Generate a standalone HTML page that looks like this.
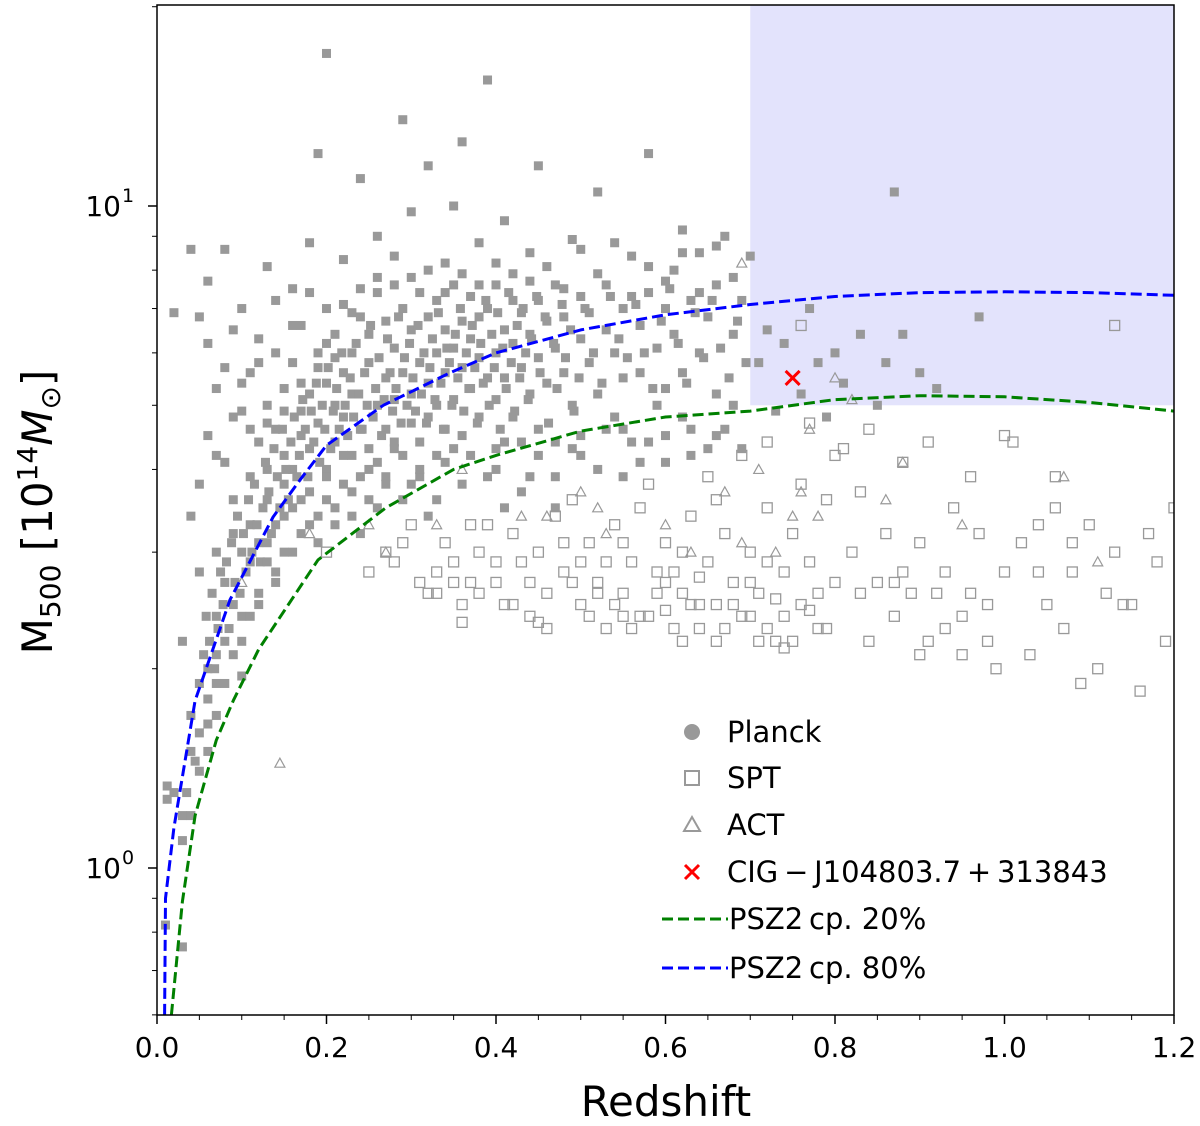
<!DOCTYPE html>
<html><head><meta charset="utf-8">
<style>
html,body{margin:0;padding:0;background:#fff;}
svg{display:block;font-family:"DejaVu Sans","Liberation Sans",sans-serif;}
</style></head>
<body>
<svg id="chart" width="1200" height="1126" viewBox="0 0 1200 1126">
<rect x="0" y="0" width="1200" height="1126" fill="#fff"/>
<g id="plot"></g>
<g id="axes"></g>
<g id="legend"></g>
</svg>
<script>
// ---- data ----
const xTicks = [0.0, 0.2, 0.4, 0.6, 0.8, 1.0, 1.2];
const xTickLabels = ["0.0","0.2","0.4","0.6","0.8","1.0","1.2"];
const yMajor = [1, 10];
const yMinor = [0.6,0.7,0.8,0.9,2,3,4,5,6,7,8,9,20];
const shadeZ = [0.7, 1.2];
const shadeM = [5.0, 20.2];
const curve80Z = [0.009,0.01,0.02,0.045,0.086,0.137,0.169,0.2,0.267,0.346,0.4,0.5,0.6,0.7,0.8,0.9,1.0,1.1,1.2];
const curve80M = [0.6,0.9,1.15,1.79,2.54,3.39,3.86,4.35,5.0,5.6,6.0,6.5,6.85,7.1,7.3,7.4,7.42,7.4,7.33];
const curve20Z = [0.017,0.03,0.045,0.07,0.09,0.12,0.19,0.27,0.35,0.4,0.5,0.6,0.7,0.8,0.9,1.0,1.1,1.2];
const curve20M = [0.6,0.89,1.2,1.56,1.79,2.14,2.92,3.5,4.0,4.2,4.57,4.8,4.9,5.1,5.17,5.15,5.05,4.9];
const cigZ = [0.75];
const cigM = [5.5];
const planck = [
[0.02,6.9],[0.012,1.33],[0.012,1.27],[0.03,0.76],[0.01,0.82],[0.02,1.3],[0.03,1.1],[0.03,2.2],[0.04,8.6],[0.04,1.5],[0.04,3.4],[0.05,6.8],[0.05,1.6],[0.05,2.8],[0.06,7.7],[0.06,2.0],[0.06,4.5],[0.06,1.8],[0.07,5.3],[0.07,2.4],[0.07,3.0],[0.07,1.9],[0.08,8.6],[0.08,4.1],[0.08,2.7],[0.08,2.2],[0.09,3.6],[0.09,6.5],[0.09,2.5],[0.09,3.2],[0.1,4.9],[0.1,3.0],[0.1,2.4],[0.1,7.0],[0.11,3.9],[0.11,2.9],[0.11,5.6],[0.11,3.3],[0.12,4.4],[0.12,3.1],[0.12,6.3],[0.12,2.6],[0.13,3.6],[0.13,5.0],[0.13,8.1],[0.13,4.0],[0.14,3.3],[0.14,4.6],[0.14,6.0],[0.14,2.8],[0.15,3.8],[0.15,5.3],[0.15,4.2],[0.15,3.0],[0.16,7.5],[0.16,4.0],[0.16,3.5],[0.16,5.8],[0.17,4.5],[0.17,3.2],[0.17,6.6],[0.17,4.9],[0.18,3.7],[0.18,5.2],[0.18,8.8],[0.18,4.3],[0.19,3.4],[0.19,6.0],[0.19,4.7],[0.19,12.0],[0.2,5.4],[0.2,4.0],[0.2,3.6],[0.2,17.0],[0.2,7.0],[0.21,4.4],[0.21,6.4],[0.21,3.5],[0.21,5.0],[0.22,3.8],[0.22,8.3],[0.22,4.8],[0.22,5.6],[0.23,4.2],[0.23,6.9],[0.23,3.4],[0.23,5.2],[0.24,4.6],[0.24,7.5],[0.24,3.9],[0.24,11.0],[0.25,5.8],[0.25,4.3],[0.25,6.4],[0.25,3.6],[0.26,5.0],[0.26,7.8],[0.26,4.1],[0.26,9.0],[0.27,5.5],[0.27,4.6],[0.27,6.7],[0.27,3.8],[0.28,5.1],[0.28,6.1],[0.28,4.4],[0.28,8.4],[0.29,5.6],[0.29,13.5],[0.29,4.2],[0.29,7.0],[0.3,5.2],[0.3,6.5],[0.3,4.7],[0.3,9.8],[0.31,5.8],[0.31,4.4],[0.31,7.4],[0.31,3.9],[0.32,5.4],[0.32,6.8],[0.32,4.8],[0.32,11.5],[0.33,6.0],[0.33,5.0],[0.33,7.2],[0.33,4.2],[0.34,5.6],[0.34,6.5],[0.34,8.2],[0.34,4.6],[0.35,6.1],[0.35,5.1],[0.35,7.6],[0.35,10.0],[0.36,5.7],[0.36,6.7],[0.36,4.5],[0.36,12.5],[0.37,6.3],[0.37,5.3],[0.37,7.3],[0.38,5.9],[0.38,4.8],[0.38,8.8],[0.38,6.8],[0.39,5.5],[0.39,7.0],[0.39,15.5],[0.4,6.0],[0.4,5.1],[0.4,7.6],[0.4,4.3],[0.41,6.5],[0.41,5.5],[0.41,9.5],[0.42,6.2],[0.42,4.8],[0.42,7.9],[0.43,5.7],[0.43,6.9],[0.43,4.4],[0.44,6.4],[0.44,8.5],[0.44,5.2],[0.45,5.9],[0.45,7.2],[0.45,4.6],[0.45,11.5],[0.46,6.7],[0.46,5.4],[0.47,6.1],[0.47,7.6],[0.47,4.4],[0.48,5.6],[0.48,6.8],[0.49,8.9],[0.49,5.0],[0.5,6.3],[0.5,7.3],[0.5,4.5],[0.51,5.8],[0.51,6.9],[0.52,10.5],[0.52,5.2],[0.53,6.5],[0.53,7.6],[0.54,4.8],[0.54,6.0],[0.55,7.0],[0.55,5.5],[0.56,8.4],[0.56,4.4],[0.57,6.6],[0.57,5.6],[0.58,7.4],[0.58,12.0],[0.59,6.1],[0.59,5.0],[0.6,7.0],[0.6,5.3],[0.61,8.0],[0.61,6.4],[0.62,5.6],[0.62,9.2],[0.63,7.2],[0.63,4.6],[0.64,6.0],[0.64,8.5],[0.65,6.8],[0.66,5.2],[0.66,7.6],[0.67,9.0],[0.68,6.4],[0.68,5.0],[0.69,7.2],[0.7,8.4],[0.71,5.8],[0.72,6.5],[0.73,4.9],[0.74,6.2],[0.76,5.2],[0.77,7.0],[0.78,5.8],[0.79,4.8],[0.8,6.0],[0.81,5.4],[0.83,6.4],[0.85,5.0],[0.86,5.8],[0.87,10.5],[0.88,6.4],[0.9,5.6],[0.92,5.3],[0.97,6.8],[0.05,1.4],[0.06,1.5],[0.07,1.7],[0.04,1.2],[0.03,1.2],[0.13,3.1],[0.15,3.4],[0.18,3.3],[0.23,3.7],[0.27,3.9],[0.31,4.0],[0.35,4.3],[0.4,4.0],[0.45,4.2],[0.5,4.2],[0.55,4.6],[0.6,4.5],[0.63,4.2],[0.67,4.6],[0.33,3.6],[0.41,3.5],[0.47,3.5],[0.57,4.1]
];
const planckCore = [
[0.055,2.1],[0.058,2.4],[0.062,2.2],[0.065,2.6],[0.068,2.0],[0.072,2.3],[0.075,2.8],[0.078,2.5],[0.082,2.9],[0.085,2.3],[0.088,3.1],[0.092,2.7],[0.095,3.4],[0.098,2.6],[0.102,3.2],[0.105,2.8],[0.108,3.6],[0.112,3.0],[0.115,3.8],[0.118,3.3],[0.122,2.9],[0.125,3.5],[0.128,4.1],[0.132,3.7],[0.135,3.2],[0.138,4.3],[0.142,3.9],[0.145,3.5],[0.148,4.6],[0.152,4.0],[0.155,3.6],[0.158,4.4],[0.162,4.8],[0.165,3.9],[0.168,4.2],[0.172,5.1],[0.175,4.6],[0.178,3.9],[0.182,4.9],[0.185,4.4],[0.188,5.4],[0.192,4.1],[0.195,5.0],[0.198,4.6],[0.202,5.7],[0.205,4.3],[0.208,4.9],[0.212,5.3],[0.215,4.6],[0.218,6.0],[0.222,5.0],[0.225,4.5],[0.228,5.5],[0.232,4.8],[0.235,6.2],[0.238,5.2],[0.242,4.6],[0.245,5.6],[0.248,5.0],[0.252,6.6],[0.255,4.8],[0.258,5.3],[0.262,5.9],[0.265,4.5],[0.268,5.1],[0.272,6.3],[0.275,5.6],[0.278,4.9],[0.282,5.3],[0.285,6.8],[0.288,4.7],[0.292,5.9],[0.295,5.0],[0.298,6.2],[0.302,5.5],[0.305,4.9],[0.308,6.6],[0.312,5.2],[0.315,6.0],[0.318,4.7],[0.322,5.7],[0.325,6.3],[0.328,5.1],[0.332,6.9],[0.335,5.4],[0.338,4.6],[0.342,6.1],[0.345,5.8],[0.348,5.0],[0.352,6.4],[0.355,5.5],[0.358,7.0],[0.362,4.9],[0.365,6.0],[0.368,5.3],[0.372,6.6],[0.375,5.7],[0.378,4.7],[0.382,6.2],[0.385,5.4],[0.388,7.2],[0.392,5.0],[0.395,6.4],[0.398,5.7],[0.402,6.9],[0.405,4.6],[0.408,6.1],[0.412,5.3],[0.415,7.4],[0.418,5.8],[0.422,4.9],[0.425,6.6],[0.428,5.5],[0.432,7.0],[0.435,6.0],[0.438,5.1],[0.442,6.3],[0.448,7.3],[0.452,5.6],[0.458,6.8],[0.462,4.7],[0.468,6.2],[0.472,5.3],[0.478,7.1],[0.482,5.9],[0.488,6.5],[0.492,4.9],[0.498,5.5],[0.505,7.0],[0.515,6.0],[0.525,5.4],[0.535,7.3],[0.545,6.3],[0.555,5.9],[0.565,7.1],[0.575,6.0],[0.585,5.3],[0.595,6.7],[0.605,7.5],[0.615,6.2],[0.625,5.4],[0.635,6.9],[0.645,5.9],[0.655,7.2],[0.665,6.1],[0.675,5.5],[0.685,6.7],[0.695,5.8],
[0.16,3.0],[0.19,3.1],[0.21,3.3],[0.24,3.2],[0.26,3.5],[0.29,3.6],[0.32,3.4],[0.36,3.8],[0.39,3.9],[0.43,3.7],[0.47,3.9],[0.52,4.0],[0.55,3.9],[0.6,4.1],[0.65,4.3],[0.12,2.5],[0.14,2.7],[0.1,2.2],[0.08,1.9],[0.06,1.65],[0.045,1.45],[0.035,1.3],[0.04,1.7],[0.05,1.9],[0.07,2.1],[0.09,2.1],[0.1,1.95],[0.11,2.4],[0.13,2.9],[0.17,3.6],[0.2,3.9],[0.22,4.2],[0.25,4.0],[0.28,4.3],[0.3,3.8],[0.34,4.1],[0.37,4.2],[0.41,4.4],[0.44,3.9],[0.49,4.3],[0.53,4.6],[0.58,4.4],[0.62,4.8],[0.66,4.5],[0.69,4.3],
[0.1,5.4],[0.12,5.8],[0.14,7.2],[0.16,6.6],[0.18,7.4],[0.2,6.2],[0.22,7.1],[0.24,6.8],[0.26,7.4],[0.28,7.6],[0.3,7.8],[0.32,8.0],[0.34,7.4],[0.36,7.9],[0.38,7.6],[0.4,8.2],[0.42,7.2],[0.44,7.7],[0.46,8.1],[0.48,7.5],[0.5,8.6],[0.52,7.9],[0.54,8.8],[0.56,7.3],[0.58,8.1],[0.6,7.7],[0.62,8.5],[0.64,7.4],[0.66,8.7],[0.68,7.8],[0.07,4.2],[0.09,4.8],[0.08,5.7],[0.06,6.2],[0.05,3.8],[0.11,4.6],[0.13,4.7],[0.15,4.9],[0.17,5.4],[0.19,5.7],[0.21,5.9],[0.23,6.0]
];
const spt = [
[0.2,3.0],[0.25,2.8],[0.28,2.9],[0.3,3.3],[0.32,2.6],[0.33,2.8],[0.35,2.9],[0.36,2.5],[0.38,3.0],[0.4,2.7],[0.41,2.5],[0.42,3.2],[0.44,2.4],[0.45,3.0],[0.46,2.6],[0.48,2.8],[0.49,3.6],[0.5,2.5],[0.51,3.1],[0.52,2.7],[0.53,2.3],[0.54,3.3],[0.55,2.6],[0.56,2.9],[0.57,3.5],[0.58,2.4],[0.59,2.8],[0.6,3.1],[0.61,2.3],[0.62,2.6],[0.63,3.4],[0.64,2.5],[0.65,2.9],[0.66,2.2],[0.67,3.2],[0.68,2.7],[0.69,2.4],[0.7,3.0],[0.71,2.6],[0.72,3.5],[0.73,2.2],[0.74,2.8],[0.75,3.2],[0.76,2.5],[0.77,2.9],[0.78,2.3],[0.79,3.6],[0.8,2.7],[0.46,2.3],[0.43,2.9],[0.39,3.3],[0.37,2.7],[0.34,3.1],[0.31,2.7],[0.29,3.1],[0.47,3.4],[0.53,2.9],[0.55,2.4],[0.58,3.8],[0.6,2.7],[0.62,3.0],[0.64,2.3],[0.66,3.6],[0.68,2.5],[0.7,2.4],[0.72,2.9],[0.74,2.4],[0.76,3.8],[0.78,2.6],[0.8,4.2],[0.82,3.0],[0.84,2.2],[0.85,2.7],[0.86,3.2],[0.87,2.4],[0.88,2.8],[0.89,2.6],[0.9,3.1],[0.91,2.2],[0.92,2.6],[0.93,2.8],[0.94,3.5],[0.95,2.1],[0.96,2.6],[0.97,3.2],[0.98,2.2],[0.99,2.0],[1.0,2.8],[1.01,4.4],[1.02,3.1],[1.03,2.1],[1.04,3.3],[1.05,2.5],[1.06,3.9],[1.07,2.3],[1.08,2.8],[1.09,1.9],[1.1,3.3],[1.11,2.0],[1.12,2.6],[1.13,3.0],[1.14,2.5],[1.15,2.5],[1.16,1.85],[1.17,3.2],[1.18,2.9],[1.19,2.2],[1.2,3.5],[1.13,6.6],[0.76,6.6],[0.81,4.3],[0.84,4.6],[0.77,4.7],[0.72,4.4],[0.69,4.2],[0.65,3.9],[0.83,3.7],[0.88,4.1],[0.91,4.4],[0.96,3.9],[1.0,4.5],[1.06,3.5],[0.87,2.7],[0.93,2.3],[0.98,2.5],[1.04,2.8],[1.08,3.1],[0.57,2.4],[0.59,2.6],[0.61,2.8],[0.63,2.5],[0.67,2.3],[0.71,2.2],[0.75,2.2],[0.79,2.3],[0.83,2.6],[0.9,2.1],[0.95,2.4],[0.52,2.6],[0.49,2.7],[0.44,2.7],[0.42,2.5],[0.4,2.9],[0.37,3.3],[0.33,2.6],[0.27,3.0],[0.35,2.7],
[0.36,2.35],[0.38,2.6],[0.45,2.35],[0.5,2.9],[0.54,2.5],[0.56,2.3],[0.6,2.45],[0.62,2.2],[0.64,2.75],[0.66,2.5],[0.7,2.7],[0.72,2.3],[0.73,2.55],[0.74,2.15],[0.77,2.45],[0.55,3.1],[0.51,2.4],[0.48,3.1]
];
const act = [
[0.145,1.44],[0.1,2.7],[0.18,3.2],[0.25,3.3],[0.27,3.0],[0.33,3.3],[0.36,4.0],[0.43,3.4],[0.46,3.4],[0.5,3.7],[0.52,3.5],[0.53,3.2],[0.6,3.3],[0.63,3.0],[0.67,3.7],[0.69,3.1],[0.71,4.0],[0.73,3.0],[0.75,3.4],[0.76,3.7],[0.78,3.4],[0.8,5.5],[0.82,5.1],[0.86,3.6],[0.88,4.1],[0.95,3.3],[1.07,3.9],[1.11,2.9],[0.69,8.2],[0.77,4.6]
];

// ---- scales ----
const X0 = 157, X1 = 1174, Y0 = 5, Y1 = 1015;
const xs = z => X0 + (z - 0) / 1.2 * (X1 - X0);
const ys = m => 868 - 662 * Math.log10(m);
const NS = "http://www.w3.org/2000/svg";
function mk(tag, attrs, parent) {
  const e = document.createElementNS(NS, tag);
  for (const k in attrs) e.setAttribute(k, attrs[k]);
  parent.appendChild(e);
  return e;
}
const plot = document.getElementById('plot');
const axes = document.getElementById('axes');
const legend = document.getElementById('legend');

const defs = mk('defs', {}, plot);
const cp = mk('clipPath', {id: 'clip'}, defs);
mk('rect', {x: X0, y: Y0, width: X1 - X0, height: Y1 - Y0}, cp);
const inner = mk('g', {'clip-path': 'url(#clip)'}, plot);

const shade = mk('rect', {x: xs(shadeZ[0]), y: ys(shadeM[1]), width: xs(shadeZ[1]) - xs(shadeZ[0]), height: ys(shadeM[0]) - ys(shadeM[1]), fill: '#e3e3fc'}, inner);



spt.forEach(p => {
  const r = mk('rect', {x: xs(p[0]) - 5, y: ys(p[1]) - 5, width: 10, height: 10, fill: 'none', stroke: '#999', 'stroke-width': 1.3}, inner);
  
  
});
planck.concat(planckCore).forEach(p => {
  const r = mk('rect', {x: xs(p[0]) - 4.5, y: ys(p[1]) - 4.5, width: 9, height: 9, fill: '#999'}, inner);
  
  
});
act.forEach(p => {
  const cx = xs(p[0]), cy = ys(p[1]);
  const t = mk('polygon', {points: `${cx},${cy - 5} ${cx - 5},${cy + 4} ${cx + 5},${cy + 4}`, fill: 'none', stroke: '#999', 'stroke-width': 1.2}, inner);
  
  
});
function curve(zs, ms, color, name) {
  const d = zs.map((z, i) => (i ? 'L' : 'M') + xs(z).toFixed(1) + ',' + ys(ms[i]).toFixed(1)).join(' ');
  const p = mk('path', {d: d, fill: 'none', stroke: color, 'stroke-width': 3, 'stroke-dasharray': '11,5', 'stroke-linejoin': 'round'}, inner);
  
  
}
curve(curve20Z, curve20M, '#008000', 'psz2-20-curve');
curve(curve80Z, curve80M, '#0000ff', 'psz2-80-curve');
cigZ.forEach((z, i) => {
  const cx = xs(z), cy = ys(cigM[i]);
  const g = mk('path', {d: `M${cx - 7},${cy - 7} L${cx + 7},${cy + 7} M${cx + 7},${cy - 7} L${cx - 7},${cy + 7}`, stroke: '#ff0000', 'stroke-width': 3}, inner);
  
  
});

const frame = mk('rect', {x: X0, y: Y0, width: X1 - X0, height: Y1 - Y0, fill: 'none', stroke: '#000', 'stroke-width': 1.5}, axes);



xTicks.forEach((v, i) => {
  mk('line', {x1: xs(v), x2: xs(v), y1: Y1, y2: Y1 + 9, stroke: '#000', 'stroke-width': 1.5}, axes);
  const t = mk('text', {x: xs(v), y: Y1 + 42, 'text-anchor': 'middle', 'font-size': 28, fill: '#000'}, axes);
  t.textContent = xTickLabels[i];
  
  
});
for (let v = 0.05; v < 1.2; v += 0.05) {
  if (Math.abs(v / 0.2 - Math.round(v / 0.2)) < 1e-6) continue;
  mk('line', {x1: xs(v), x2: xs(v), y1: Y1, y2: Y1 + 5, stroke: '#000', 'stroke-width': 1}, axes);
}
yMajor.forEach(v => {
  mk('line', {x1: X0 - 9, x2: X0, y1: ys(v), y2: ys(v), stroke: '#000', 'stroke-width': 1.5}, axes);
  const t = mk('text', {x: X0 - 36, y: ys(v) + 10, 'text-anchor': 'end', 'font-size': 28, fill: '#000'}, axes);
  t.textContent = '10';
  
  
  const s = mk('text', {x: X0 - 35, y: ys(v) - 4, 'font-size': 19, fill: '#000'}, axes);
  s.textContent = v === 1 ? '0' : '1';
});
yMinor.forEach(v => {
  mk('line', {x1: X0 - 5, x2: X0, y1: ys(v), y2: ys(v), stroke: '#000', 'stroke-width': 1}, axes);
});
const xt = mk('text', {x: 666, y: 1116, 'text-anchor': 'middle', 'font-size': 42, fill: '#000'}, axes);
xt.textContent = 'Redshift';


const yt = mk('text', {transform: 'translate(52,512) rotate(-90)', 'text-anchor': 'middle', 'font-size': 42, fill: '#000'}, axes);
yt.innerHTML = 'M<tspan font-size="28" dy="8">500</tspan><tspan dy="-8"> [10</tspan><tspan font-size="28" dy="-15">14</tspan><tspan dy="15" font-style="italic">M</tspan><tspan font-size="28" dy="8">⊙</tspan><tspan dy="-8">]</tspan>';



const LX = 692, TX = 727;
const legItems = [
  {y: 732, label: 'Planck', name: 'legend-planck'},
  {y: 778, label: 'SPT', name: 'legend-spt'},
  {y: 825, label: 'ACT', name: 'legend-act'},
  {y: 872, label: 'CIG\u2009\u2212\u2009J104803.7\u2009+\u2009313843', name: 'legend-cig'},
  {y: 919, label: 'PSZ2\u2009cp. 20%', name: 'legend-psz2-20'},
  {y: 968, label: 'PSZ2\u2009cp. 80%', name: 'legend-psz2-80'}
];
legItems.forEach((it, i) => {
  const g = mk('g', {}, legend);
  
  
  const y = it.y;
  if (i === 0) mk('circle', {cx: LX, cy: y, r: 8, fill: '#999'}, g);
  if (i === 1) mk('rect', {x: LX - 7, y: y - 7, width: 14, height: 14, fill: 'none', stroke: '#999', 'stroke-width': 2}, g);
  if (i === 2) mk('polygon', {points: `${LX},${y - 8} ${LX - 8},${y + 6} ${LX + 8},${y + 6}`, fill: 'none', stroke: '#999', 'stroke-width': 2}, g);
  if (i === 3) mk('path', {d: `M${LX - 7},${y - 7} L${LX + 7},${y + 7} M${LX + 7},${y - 7} L${LX - 7},${y + 7}`, stroke: '#ff0000', 'stroke-width': 3}, g);
  if (i === 4) mk('line', {x1: 662, x2: 728, y1: y, y2: y, stroke: '#008000', 'stroke-width': 3, 'stroke-dasharray': '11,5'}, g);
  if (i === 5) mk('line', {x1: 662, x2: 728, y1: y, y2: y, stroke: '#0000ff', 'stroke-width': 3, 'stroke-dasharray': '11,5'}, g);
  const t = mk('text', {x: i >= 4 ? 729 : TX, y: y + 10, 'font-size': 29, fill: '#000'}, g);
  t.textContent = it.label;
});
</script>
</body></html>
